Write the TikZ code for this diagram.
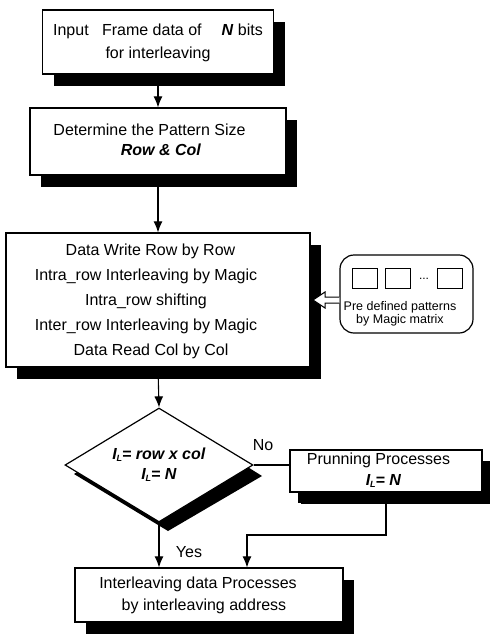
\documentclass[tikz,border=0pt]{standalone}
\usepackage{fontspec}
\setmainfont{Liberation Sans}
\usetikzlibrary{shapes.geometric,shadows,arrows.meta,calc}
\newcommand{\IL}{\textbf{\textit{I}}\kern-0.5pt\raisebox{-2pt}{\fontsize{9}{9}\selectfont\textbf{\textit{L}}}}
\newcommand{\lines}[3]{\hspace*{#1}\begin{tabular}{@{}c@{}}#3\end{tabular}\hspace*{#2}}
\begin{document}
\begin{tikzpicture}[x=1pt,y=-1pt,
  font=\fontsize{16}{22}\selectfont,
  shad/.style={drop shadow={shadow xshift=11pt,shadow yshift=-12pt,fill=black,opacity=1}},
  box/.style={draw,line width=1.2pt,fill=white,rectangle,inner sep=0pt,shad},
  arr/.style={line width=1.1pt,-{Latex[length=11pt,width=9pt]}},
  ln/.style={line width=1.1pt},
  sq/.style={draw,line width=1pt,rectangle,minimum width=25pt,minimum height=20pt,inner sep=0pt}]
\useasboundingbox (0,0) rectangle (490,635);
\fill[white] (0,0) rectangle (490,635);

% box 1
\node[box,minimum width=231pt,minimum height=64pt] (b1) at (158,42)
  {\fontsize{16}{23}\selectfont\lines{0pt}{0pt}{Input\ \ \ Frame data of\hspace{20pt}\textbf{\textit{N}} bits\\ for interleaving}};
% box 2
\node[box,minimum width=256pt,minimum height=67pt] (b2) at (158,141.5)
  {\fontsize{16}{20}\selectfont\lines{0pt}{0pt}{Determine the Pattern Size\hspace*{17pt}\\ \hspace*{6pt}\textbf{\textit{Row \& Col}}}};
% big box
\node[box,minimum width=304pt,minimum height=134pt] (b3) at (158,300)
  {\fontsize{16}{25}\selectfont\lines{0pt}{24pt}{\hspace*{9pt}Data Write Row by Row\\ Intra\_row Interleaving by Magic\\ Intra\_row shifting\\ Inter\_row Interleaving by Magic\\ \hspace*{10pt}Data Read Col by Col}};
% pattern box
\node[draw,line width=1.2pt,rounded corners=14pt,minimum width=133pt,minimum height=78pt,inner sep=0pt] (pat) at (406.5,294) {};
\node[sq] (s1) at (364.5,278) {};
\node[sq] (s2) at (397.5,278) {};
\node[sq] (s3) at (450,278) {};
\node[inner sep=0pt] (dots) at (424,279) {\fontsize{12}{12}\selectfont...};
\node[inner sep=0pt] (pt) at (400,314.5) {\fontsize{12.5}{12}\selectfont\begin{tabular}{@{}c@{}}Pre defined patterns\\ by Magic matrix\end{tabular}};
% hollow arrow
\draw[line width=1pt,fill=white] (pat.west |- 0,297) -- (325,297) -- (325,292) -- (313,300) -- (325,308) -- (325,303) -- (pat.west |- 0,303);
% diamond shadow and diamond
\fill[black] (168,417) -- (262,476) -- (168,531) -- (74,474) -- cycle;
\node[draw,line width=1.2pt,fill=white,diamond,aspect=1.65,minimum width=188pt,minimum height=114pt,inner sep=0pt] (d) at (159,465)
  {\fontsize{16}{20}\selectfont\begin{tabular}{@{}c@{}}\IL\textbf{\textit{= row x col}}\\ \IL\textbf{\textit{= N}}\end{tabular}};
% pruning
\node[box,minimum width=192pt,minimum height=36pt,
  drop shadow={shadow xshift=8pt,shadow yshift=-11pt,fill=black,opacity=1}] (p) at (386,471)
  {\fontsize{16}{21}\selectfont\lines{0pt}{15pt}{Prunning Processes\\ \hspace*{10pt}\IL\textbf{\textit{= N}}}};
% final
\node[box,minimum width=268pt,minimum height=54pt] (f) at (209,595)
  {\fontsize{16}{22}\selectfont\lines{0pt}{22pt}{Interleaving data Processes\\ \hspace*{12pt}by interleaving address}};

% connectors
\draw[arr] (b1.south) -- (b2.north);
\draw[arr] (b2.south) -- (b3.north);
\draw[arr] (b3.south) -- (d.north);
\draw[ln] (d.east) -- (d.east -| p.west);
\draw[arr] (d.south) -- (d.south |- f.north);
\coordinate (j) at (247,535);
\draw[arr] (p.south) |- (j) -- (j |- f.north);
\node (no) at (263,445) {No};
\node (yes) at (189,552) {Yes};
\end{tikzpicture}
\end{document}
